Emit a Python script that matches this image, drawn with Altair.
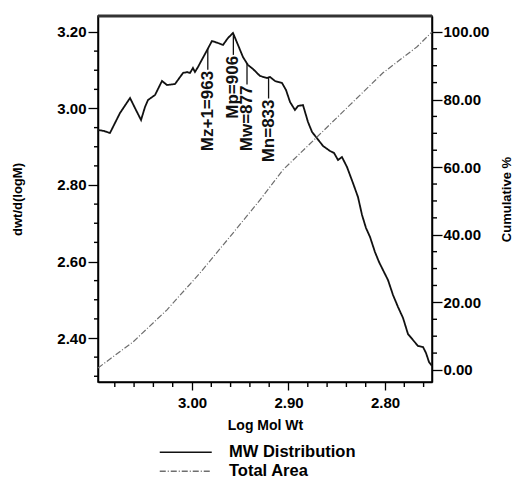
import altair as alt
import pandas as pd
import numpy as np

# ---- data ----
log_mw = [3.0974, 3.0912, 3.0850, 3.0746, 3.0642, 3.0591, 3.0528, 3.0487, 3.0456, 3.0383,
          3.0311, 3.0259, 3.0176, 3.0093, 3.0052, 3.0021, 2.9990, 2.9969, 2.9938, 2.9865,
          2.9793, 2.9731, 2.9679, 2.9627, 2.9575, 2.9523, 2.9472, 2.9420, 2.9368, 2.9295,
          2.9223, 2.9192, 2.9140, 2.9067, 2.9026, 2.8984, 2.8933, 2.8902, 2.8850, 2.8798,
          2.8756, 2.8715, 2.8642, 2.8570, 2.8528, 2.8487, 2.8446, 2.8394, 2.8332, 2.8280,
          2.8238, 2.8197, 2.8155, 2.8104, 2.8062, 2.8021, 2.7969, 2.7917, 2.7865, 2.7813,
          2.7762, 2.7710, 2.7658, 2.7606, 2.7575, 2.7544, 2.7513]
dw = [2.9438, 2.9412, 2.9359, 2.9882, 3.0274, 3.0013, 2.9699, 3.0039, 3.0222, 3.0353,
      3.0719, 3.0614, 3.0641, 3.0928, 3.0954, 3.0928, 3.1059, 3.0954, 3.1085, 3.1425,
      3.1765, 3.1712, 3.1660, 3.1843, 3.1974, 3.1660, 3.1346, 3.1137, 3.1033, 3.0850,
      3.0797, 3.0824, 3.0719, 3.0667, 3.0484, 3.0170, 2.9961, 3.0065, 3.0091, 2.9647,
      2.9386, 2.9255, 2.9020, 2.8889, 2.8837, 2.8654, 2.8732, 2.8471, 2.8052, 2.7686,
      2.7216, 2.6876, 2.6640, 2.6248, 2.5987, 2.5778, 2.5516, 2.5124, 2.4810, 2.4523,
      2.4105, 2.3948, 2.3791, 2.3765, 2.3608, 2.3372, 2.3268]

cum_log_mw = [3.0974, 3.0611, 3.0259, 2.9917, 2.9575, 2.9295, 2.9057, 2.8705, 2.8363,
              2.8021, 2.7668, 2.7513]
cum_pct = [0.6, 8.3, 17.8, 28.7, 40.5, 50.3, 59.2, 68.9, 78.4, 87.9, 95.6, 100.0]

marker_labels = ["Mz+1=963", "Mp=906", "Mw=877", "Mn=833"]
marker_mw = [963, 906, 877, 833]

series_names = ["MW Distribution", "Total Area"]

x_major = [3.00, 2.90, 2.80]
x_minor = [3.08, 3.06, 3.04, 3.02, 2.98, 2.96, 2.94, 2.92, 2.88, 2.86,
           2.84, 2.82, 2.78, 2.76]
yl_major = [2.40, 2.60, 2.80, 3.00, 3.20]
yl_minor = [2.30, 2.35, 2.45, 2.50, 2.55, 2.65, 2.70, 2.75, 2.85,
            2.90, 2.95, 3.05, 3.10, 3.15]
yr_major = [0, 20, 40, 60, 80, 100]
yr_minor = [5, 10, 15, 25, 30, 35, 45, 50, 55, 65, 70, 75, 85, 90, 95]

# ---- tables ----
dist_df = pd.DataFrame({"logM": log_mw, "dw": dw, "series": series_names[0]})
cum_df = pd.DataFrame({"logM": cum_log_mw, "cum": cum_pct, "series": series_names[1]})

label_gap = 0.055
m_log = np.log10(np.array(marker_mw, dtype=float))
m_top = np.interp(m_log, log_mw[::-1], dw[::-1])
mark_df = pd.DataFrame({"logM": m_log, "top": m_top, "bottom": m_top - label_gap,
                        "label": marker_labels})

FONT = "Liberation Sans"
W, H = 334, 366

x_scale = alt.Scale(domain=[3.0974, 2.7513], nice=False, zero=False)
yl_scale = alt.Scale(domain=[2.285, 3.2418], nice=False, zero=False)
yr_scale = alt.Scale(domain=[-3.55, 104.7], nice=False, zero=False)
color_scale = alt.Scale(domain=series_names, range=["#111111", "#6e6e6e"])
dash_scale = alt.Scale(domain=series_names, range=[[1, 0], [6, 2, 1, 2]])

leg = alt.Legend(title=None, orient="none", legendX=79.5, legendY=428,
                 symbolType="M-4,0H4", symbolSize=169, symbolStrokeWidth=1.4,
                 labelFont=FONT, labelFontSize=16.5, labelFontWeight="bold",
                 labelColor="black", labelOffset=35, rowPadding=2, padding=0)

dist = alt.Chart(dist_df).mark_line(strokeWidth=1.8).encode(
    x=alt.X("logM:Q", scale=x_scale,
            axis=alt.Axis(orient="bottom", values=x_major, format=".2f", tickSize=8,
                          labelPadding=5, title="Log Mol Wt", titlePadding=8)),
    y=alt.Y("dw:Q", scale=yl_scale,
            axis=alt.Axis(orient="left", values=yl_major, format=".2f", tickSize=10,
                          labelPadding=2, title="dwt/d(logM)", titlePadding=32,
                          titleFontSize=13)),
    color=alt.Color("series:N", scale=color_scale, legend=leg),
    strokeDash=alt.StrokeDash("series:N", scale=dash_scale, legend=leg),
)

cum = alt.Chart(cum_df).mark_line(strokeWidth=1.2).encode(
    x=alt.X("logM:Q", scale=x_scale, axis=None),
    y=alt.Y("cum:Q", scale=yr_scale,
            axis=alt.Axis(orient="right", values=yr_major, format=".2f", tickSize=10,
                          labelPadding=1, title="Cumulative %", titleAngle=270,
                          titleBaseline="top", titlePadding=12, titleFontSize=13)),
    color=alt.Color("series:N", scale=color_scale, legend=leg),
    strokeDash=alt.StrokeDash("series:N", scale=dash_scale, legend=leg),
)

# minor ticks (axis decoration) positioned through the chart's own scales
bottom_minor = alt.Chart(pd.DataFrame({"v": x_minor})).mark_rule(
    color="black", strokeWidth=1.4).encode(
    x=alt.X("v:Q", scale=x_scale, axis=None),
    y=alt.value(H), y2=alt.value(H + 5))

left_minor = alt.Chart(pd.DataFrame({"v": yl_minor})).mark_rule(
    color="black", strokeWidth=1.4).encode(
    y=alt.Y("v:Q", scale=yl_scale, axis=None),
    x=alt.value(-4), x2=alt.value(0))

right_minor = alt.Chart(pd.DataFrame({"v": yr_minor})).mark_rule(
    color="black", strokeWidth=1.4).encode(
    y=alt.Y("v:Q", scale=yr_scale, axis=None),
    x=alt.value(W), x2=alt.value(W + 5))

m_rules = alt.Chart(mark_df).mark_rule(color="#111111", strokeWidth=1.3).encode(
    x=alt.X("logM:Q", scale=x_scale, axis=None),
    y=alt.Y("top:Q", scale=yl_scale, axis=None),
    y2="bottom:Q",
)

m_text = alt.Chart(mark_df).mark_text(
    angle=270, align="right", baseline="middle", font=FONT, fontSize=17,
    fontWeight="bold", color="#111111", dx=-1,
).encode(
    x=alt.X("logM:Q", scale=x_scale, axis=None),
    y=alt.Y("bottom:Q", scale=yl_scale, axis=None),
    text="label:N",
)

top_border = alt.Chart(pd.DataFrame({"k": [0]})).mark_rule(
    color="#333333", strokeWidth=3).encode(
    x=alt.value(0), x2=alt.value(W), y=alt.value(0))

chart = alt.layer(
    dist, cum, bottom_minor, left_minor, right_minor, m_rules, m_text, top_border
).resolve_scale(
    y="independent"
).resolve_axis(
    x="independent", y="independent"
).properties(
    width=W, height=H,
    autosize=alt.AutoSizeParams(type="none"),
    padding={"left": 98, "top": 16, "right": 86, "bottom": 104},
    background="white",
).configure_view(
    stroke="black", strokeWidth=1.5
).configure_axis(
    grid=False, labelFont=FONT, labelFontSize=15, labelFontWeight="bold",
    labelColor="black", titleFont=FONT, titleFontSize=14, titleFontWeight="bold",
    titleColor="black", tickColor="black", tickWidth=1.3, domainColor="black",
    domainWidth=1.5,
)

chart.save("out.html", embed_options={"renderer": "svg", "actions": False})
